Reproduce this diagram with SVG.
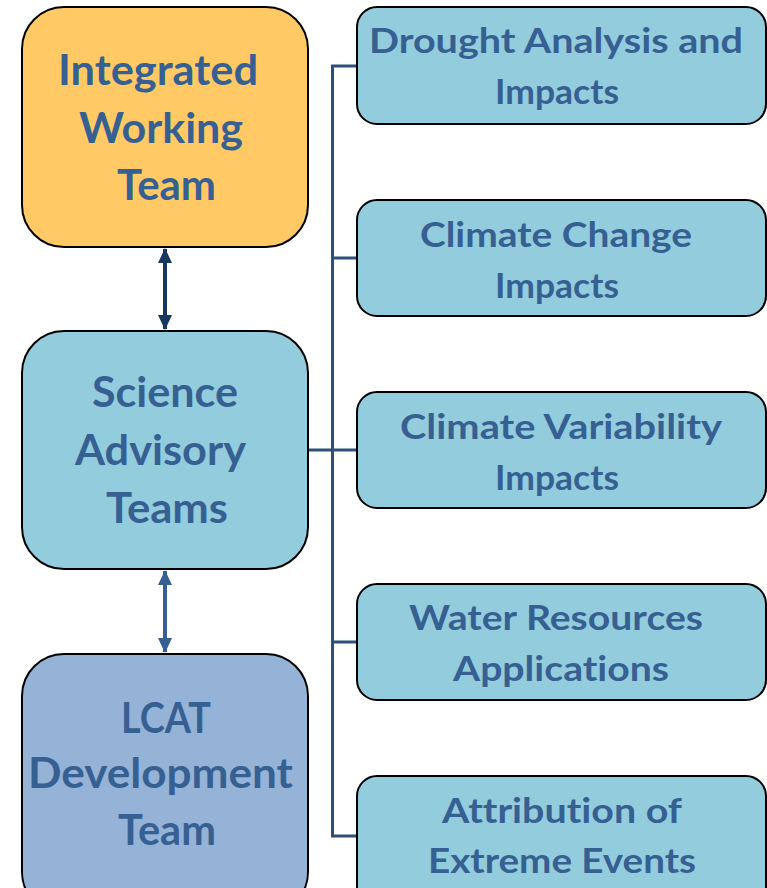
<svg xmlns="http://www.w3.org/2000/svg" width="767" height="888" viewBox="0 0 767 888">
  <style>
    .box { stroke: #000; stroke-width: 2; }
    text { font-family: Lato, "Open Sans", "Liberation Sans", sans-serif; font-weight: bold; fill: #376092; text-anchor: middle; font-variant-ligatures: none; }
    .big { font-size: 42px; }
    .sm { font-size: 34px; }
    .tree { fill: none; stroke: #2E4F79; stroke-width: 3; }
  </style>
  <defs>
    <marker id="headDark" viewBox="0 0 15 14" refX="14" refY="7" markerWidth="15" markerHeight="14" markerUnits="userSpaceOnUse" orient="auto-start-reverse">
      <path d="M0,0 L15,7 L0,14 Z" fill="#17375E"/>
    </marker>
    <marker id="headMid" viewBox="0 0 15 14" refX="14" refY="7" markerWidth="15" markerHeight="14" markerUnits="userSpaceOnUse" orient="auto-start-reverse">
      <path d="M0,0 L15,7 L0,14 Z" fill="#376092"/>
    </marker>
  </defs>

  <!-- connectors -->
  <g id="connectors">
    <line x1="165" y1="249" x2="165" y2="329" stroke="#17375E" stroke-width="4" marker-start="url(#headDark)" marker-end="url(#headDark)"/>
    <line x1="165" y1="571" x2="165" y2="652" stroke="#376092" stroke-width="4" marker-start="url(#headMid)" marker-end="url(#headMid)"/>
    <path class="tree" d="M357,66 H332.5 V836 H357 M332.5,258 H357 M308,450 H357 M332.5,642 H357"/>
  </g>

  <!-- left column -->
  <g id="integrated-working-team">
    <rect class="box" x="22" y="7" width="286" height="240" rx="42" fill="#FFCA65"/>
    <text class="big" x="158" y="85" textLength="200" lengthAdjust="spacingAndGlyphs">Integrated</text>
    <text class="big" x="161" y="143" textLength="164" lengthAdjust="spacingAndGlyphs">Working</text>
    <text class="big" x="166.5" y="200" textLength="99" lengthAdjust="spacingAndGlyphs">Team</text>
  </g>
  <g id="science-advisory-teams">
    <rect class="box" x="22" y="331" width="286" height="238" rx="42" fill="#93CDDD"/>
    <text class="big" x="165" y="407" textLength="146" lengthAdjust="spacingAndGlyphs">Science</text>
    <text class="big" x="160.5" y="465" textLength="171" lengthAdjust="spacingAndGlyphs">Advisory</text>
    <text class="big" x="167" y="523" textLength="122" lengthAdjust="spacingAndGlyphs">Teams</text>
  </g>
  <g id="lcat-development-team">
    <rect class="box" x="22" y="654" width="286" height="260" rx="42" fill="#95B3D7"/>
    <text class="big" x="166" y="733" textLength="90" lengthAdjust="spacingAndGlyphs">LCAT</text>
    <text class="big" x="160.5" y="788" textLength="265" lengthAdjust="spacingAndGlyphs">Development</text>
    <text class="big" x="167" y="845" textLength="98" lengthAdjust="spacingAndGlyphs">Team</text>
  </g>

  <!-- right column -->
  <g id="drought-analysis">
    <rect class="box" x="357" y="7" width="409" height="117" rx="20" fill="#93CDDD"/>
    <text class="sm" x="556" y="53" textLength="374" lengthAdjust="spacingAndGlyphs">Drought Analysis and</text>
    <text class="sm" x="557" y="104" textLength="124" lengthAdjust="spacingAndGlyphs">Impacts</text>
  </g>
  <g id="climate-change">
    <rect class="box" x="357" y="200" width="409" height="116" rx="20" fill="#93CDDD"/>
    <text class="sm" x="556" y="247" textLength="272" lengthAdjust="spacingAndGlyphs">Climate Change</text>
    <text class="sm" x="557" y="298" textLength="124" lengthAdjust="spacingAndGlyphs">Impacts</text>
  </g>
  <g id="climate-variability">
    <rect class="box" x="357" y="392" width="409" height="116" rx="20" fill="#93CDDD"/>
    <text class="sm" x="561" y="439" textLength="322" lengthAdjust="spacingAndGlyphs">Climate Variability</text>
    <text class="sm" x="557" y="490" textLength="124" lengthAdjust="spacingAndGlyphs">Impacts</text>
  </g>
  <g id="water-resources">
    <rect class="box" x="357" y="584" width="409" height="116" rx="20" fill="#93CDDD"/>
    <text class="sm" x="556" y="630" textLength="294" lengthAdjust="spacingAndGlyphs">Water Resources</text>
    <text class="sm" x="561" y="681" textLength="216" lengthAdjust="spacingAndGlyphs">Applications</text>
  </g>
  <g id="attribution">
    <rect class="box" x="357" y="776" width="409" height="140" rx="20" fill="#93CDDD"/>
    <text class="sm" x="562" y="823" textLength="240" lengthAdjust="spacingAndGlyphs">Attribution of</text>
    <text class="sm" x="562" y="873" textLength="268" lengthAdjust="spacingAndGlyphs">Extreme Events</text>
  </g>
</svg>
